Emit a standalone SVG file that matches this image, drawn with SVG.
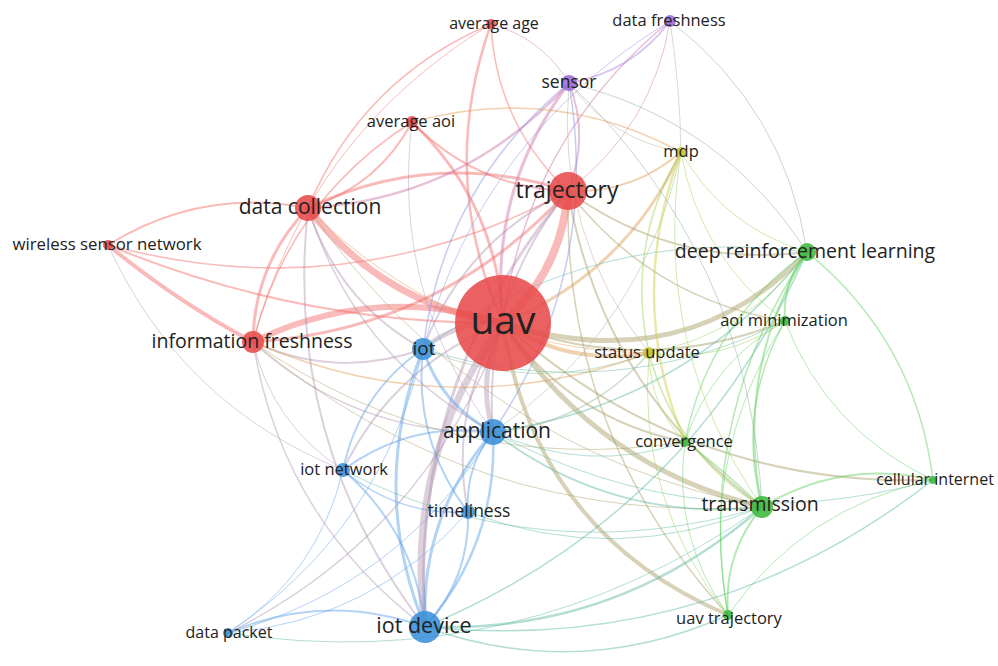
<svg xmlns="http://www.w3.org/2000/svg" width="998" height="666" viewBox="0 0 998 666">
  <style>
    .e{fill:none;stroke-linecap:round;stroke-opacity:.46}
    .r{stroke:#f26b66}.b{stroke:#5aa0e6}.g{stroke:#5ccf5c}.p{stroke:#a87ee6}.y{stroke:#d0d040}
    .rb{stroke:#a88aaa;stroke-opacity:.4}.rg{stroke:#a79d61}.rp{stroke:#cd74a6}.ry{stroke:#e19d53}
    .bg{stroke:#5bb7a1}.bp{stroke:#818fe6}.by{stroke:#95b893}.gy{stroke:#96cf4e}.gp{stroke:#82a6a1}.py{stroke:#bca793}
    .n{fill-opacity:.88}
    .nr{fill:#e84a4a}.nb{fill:#3a8fd8}.ng{fill:#3db83d}.np{fill:#9b6bd6}.ny{fill:#c4c42a}
    text{font-family:"Open Sans","Noto Sans","Liberation Sans",sans-serif;fill:#222;text-anchor:middle}
  </style>

  <!-- co-occurrence links, coloured by the clusters they join -->
  <g id="links">
    <!-- red cluster -->
    <path class="e r" stroke-width="8" d="M503 323 Q562 270 568 191"/>
    <path class="e r" stroke-width="7" d="M308 208 Q383 305 503 323"/>
    <path class="e r" stroke-width="6" d="M503 323 Q374 283 253 342"/>
    <path class="e r" stroke-width="4" d="M108 245 Q176 301 253 342"/>
    <path class="e r" stroke-width="2" d="M308 208 Q201 187 108 245"/>
    <path class="e r" stroke-width="3" d="M503 323 Q498 204 412 122"/>
    <path class="e r" stroke-width="2.5" d="M491 24 Q437 176 503 323"/>
    <path class="e r" stroke-width="3" d="M568 191 Q434 148 308 208"/>
    <path class="e r" stroke-width="3" d="M253 342 Q441 330 568 191"/>
    <path class="e r" stroke-width="3" d="M308 208 Q254 264 253 342"/>
    <path class="e r" stroke-width="2" d="M308 208 Q378 186 412 122"/>
    <path class="e r" stroke-width="1.5" d="M491 24 Q362 79 308 208"/>
    <path class="e r" stroke-width="1.5" d="M412 122 Q289 200 253 342"/>
    <path class="e r" stroke-width="1" d="M491 24 Q308 135 253 342"/>
    <path class="e r" stroke-width="1.5" d="M108 245 Q349 310 568 191"/>
    <path class="e r" stroke-width="2" d="M108 245 Q298 324 503 323"/>
    <path class="e r" stroke-width="2" d="M412 122 Q476 188 568 191"/>
    <path class="e r" stroke-width="1.5" d="M491 24 Q496 123 568 191"/>

    <!-- red to blue -->
    <path class="e rb" stroke-width="7" d="M503 323 Q403 459 425 627"/>
    <path class="e rb" stroke-width="5" d="M503 323 Q458 320 423 349"/>
    <path class="e rb" stroke-width="5" d="M503 323 Q476 376 493 432"/>
    <path class="e rb" stroke-width="2" d="M503 323 Q394 365 343 470"/>
    <path class="e rb" stroke-width="2" d="M503 323 Q448 411 468 512"/>
    <path class="e rb" stroke-width="1.5" d="M228 633 Q428 533 503 323"/>
    <path class="e rb" stroke-width="2" d="M568 191 Q464 241 423 349"/>
    <path class="e rb" stroke-width="2" d="M568 191 Q482 297 493 432"/>
    <path class="e rb" stroke-width="3" d="M568 191 Q409 380 425 627"/>
    <path class="e rb" stroke-width="2" d="M308 208 Q338 302 423 349"/>
    <path class="e rb" stroke-width="2" d="M308 208 Q283 442 425 627"/>
    <path class="e rb" stroke-width="1.5" d="M308 208 Q356 358 493 432"/>
    <path class="e rb" stroke-width="1.5" d="M253 342 Q282 519 425 627"/>
    <path class="e rb" stroke-width="2" d="M253 342 Q337 380 423 349"/>
    <path class="e rb" stroke-width="1" d="M253 342 Q272 424 343 470"/>
    <path class="e rb" stroke-width="1.5" d="M253 342 Q355 435 493 432"/>
    <path class="e rb" stroke-width="1" d="M108 245 Q181 405 343 470"/>
    <path class="e rb" stroke-width="1" d="M412 122 Q391 293 493 432"/>

    <!-- red to purple -->
    <path class="e rp" stroke-width="3" d="M569 83 Q488 190 503 323"/>
    <path class="e rp" stroke-width="2" d="M568 191 Q590 137 569 83"/>
    <path class="e rp" stroke-width="2.5" d="M308 208 Q464 199 569 83"/>
    <path class="e rp" stroke-width="1" d="M569 83 Q542 38 491 24"/>
    <path class="e rp" stroke-width="1" d="M568 191 Q653 126 670 21"/>
    <path class="e rp" stroke-width="1.5" d="M670 21 Q526 139 503 323"/>

    <!-- red to yellow -->
    <path class="e ry" stroke-width="3" d="M503 323 Q626 273 681 152"/>
    <path class="e ry" stroke-width="2" d="M568 191 Q632 194 681 152"/>
    <path class="e ry" stroke-width="4" d="M503 323 Q570 367 649 353"/>
    <path class="e ry" stroke-width="1.5" d="M681 152 Q553 83 412 122"/>
    <path class="e ry" stroke-width="1.5" d="M253 342 Q449 427 649 353"/>
    <path class="e ry" stroke-width="1" d="M308 208 Q450 350 649 353"/>

    <!-- red to green -->
    <path class="e rg" stroke-width="5" d="M503 323 Q596 467 762 507"/>
    <path class="e rg" stroke-width="5" d="M503 323 Q685 380 807 252"/>
    <path class="e rg" stroke-width="4" d="M503 323 Q534 532 728 615"/>
    <path class="e rg" stroke-width="2" d="M503 323 Q644 378 785 321"/>
    <path class="e rg" stroke-width="2" d="M503 323 Q570 419 685 442"/>
    <path class="e rg" stroke-width="2" d="M503 323 Q687 488 933 480"/>
    <path class="e rg" stroke-width="2" d="M568 191 Q675 269 807 252"/>
    <path class="e rg" stroke-width="2" d="M568 191 Q602 388 762 507"/>
    <path class="e rg" stroke-width="1.5" d="M568 191 Q563 435 728 615"/>
    <path class="e rg" stroke-width="1.5" d="M568 191 Q651 299 785 321"/>
    <path class="e rg" stroke-width="1" d="M308 208 Q476 449 762 507"/>
    <path class="e rg" stroke-width="1" d="M253 342 Q475 526 762 507"/>
    <path class="e rg" stroke-width="1" d="M253 342 Q449 478 685 442"/>

    <!-- blue cluster -->
    <path class="e b" stroke-width="3" d="M423 349 Q441 405 493 432"/>
    <path class="e b" stroke-width="3" d="M423 349 Q368 488 425 627"/>
    <path class="e b" stroke-width="2" d="M423 349 Q359 393 343 470"/>
    <path class="e b" stroke-width="2" d="M423 349 Q413 440 468 512"/>
    <path class="e b" stroke-width="3" d="M493 432 Q420 516 425 627"/>
    <path class="e b" stroke-width="2.5" d="M425 627 Q498 543 493 432"/>
    <path class="e b" stroke-width="2" d="M493 432 Q410 421 343 470"/>
    <path class="e b" stroke-width="2" d="M493 432 Q465 467 468 512"/>
    <path class="e b" stroke-width="2" d="M425 627 Q415 532 343 470"/>
    <path class="e b" stroke-width="2" d="M425 627 Q470 578 468 512"/>
    <path class="e b" stroke-width="2" d="M425 627 Q325 591 228 633"/>
    <path class="e b" stroke-width="1" d="M228 633 Q318 575 343 470"/>
    <path class="e b" stroke-width="1" d="M228 633 Q401 586 493 432"/>
    <path class="e b" stroke-width="1" d="M228 633 Q382 530 423 349"/>
    <path class="e b" stroke-width="1" d="M228 633 Q372 621 468 512"/>
    <path class="e b" stroke-width="1.5" d="M343 470 Q397 516 468 512"/>

    <!-- blue to purple -->
    <path class="e bp" stroke-width="1.5" d="M569 83 Q443 187 423 349"/>
    <path class="e bp" stroke-width="1.5" d="M493 432 Q601 273 569 83"/>
    <path class="e bp" stroke-width="1" d="M670 21 Q481 136 423 349"/>

    <!-- blue to green -->
    <path class="e bg" stroke-width="2.5" d="M425 627 Q618 634 762 507"/>
    <path class="e bg" stroke-width="1.5" d="M425 627 Q579 682 728 615"/>
    <path class="e bg" stroke-width="1.5" d="M425 627 Q708 655 933 480"/>
    <path class="e bg" stroke-width="2" d="M493 432 Q613 523 762 507"/>
    <path class="e bg" stroke-width="1.5" d="M493 432 Q686 405 807 252"/>
    <path class="e bg" stroke-width="1" d="M493 432 Q587 475 685 442"/>
    <path class="e bg" stroke-width="1" d="M807 252 Q596 224 423 349"/>
    <path class="e bg" stroke-width="1.5" d="M425 627 Q691 516 807 252"/>
    <path class="e bg" stroke-width="1" d="M468 512 Q616 568 762 507"/>
    <path class="e bg" stroke-width="1" d="M343 470 Q545 572 762 507"/>
    <path class="e bg" stroke-width="1" d="M228 633 Q520 677 762 507"/>
    <path class="e bg" stroke-width="1" d="M423 349 Q610 407 785 321"/>
    <path class="e bg" stroke-width="1" d="M493 432 Q703 544 933 480"/>

    <!-- blue to yellow -->
    <path class="e by" stroke-width="1" d="M423 349 Q535 396 649 353"/>
    <path class="e by" stroke-width="1.5" d="M493 432 Q587 424 649 353"/>
    <path class="e by" stroke-width="1" d="M493 432 Q643 330 681 152"/>

    <!-- green cluster -->
    <path class="e g" stroke-width="2" d="M807 252 Q782 282 785 321"/>
    <path class="e g" stroke-width="2" d="M807 252 Q734 371 762 507"/>
    <path class="e g" stroke-width="1.5" d="M807 252 Q708 323 685 442"/>
    <path class="e g" stroke-width="1.5" d="M807 252 Q695 418 728 615"/>
    <path class="e g" stroke-width="1.5" d="M933 480 Q916 341 807 252"/>
    <path class="e g" stroke-width="1.5" d="M785 321 Q736 409 762 507"/>
    <path class="e g" stroke-width="1" d="M785 321 Q698 457 728 615"/>
    <path class="e g" stroke-width="2" d="M933 480 Q842 459 762 507"/>
    <path class="e g" stroke-width="2" d="M762 507 Q723 554 728 615"/>
    <path class="e g" stroke-width="1.5" d="M762 507 Q711 459 685 442"/>
    <path class="e g" stroke-width="1" d="M685 442 Q672 537 728 615"/>
    <path class="e g" stroke-width="1" d="M933 480 Q804 507 728 615"/>
    <path class="e g" stroke-width="1" d="M785 321 Q711 362 685 442"/>
    <path class="e g" stroke-width="1" d="M785 321 Q827 430 933 480"/>

    <!-- green to yellow -->
    <path class="e gy" stroke-width="1.5" d="M681 152 Q625 246 649 353"/>
    <path class="e gy" stroke-width="1" d="M681 152 Q724 227 807 252"/>
    <path class="e gy" stroke-width="1" d="M681 152 Q651 346 762 507"/>
    <path class="e y" stroke-width="2.5" d="M681 152 Q625 298 685 442"/>
    <path class="e gy" stroke-width="1.5" d="M649 353 Q675 453 762 507"/>
    <path class="e gy" stroke-width="1" d="M649 353 Q748 334 807 252"/>
    <path class="e gy" stroke-width="1" d="M649 353 Q649 405 685 442"/>
    <path class="e gy" stroke-width="1" d="M649 353 Q723 364 785 321"/>
    <path class="e gy" stroke-width="1" d="M681 152 Q699 257 785 321"/>
    <path class="e gy" stroke-width="1" d="M649 353 Q636 500 728 615"/>

    <!-- purple cluster and its outside links -->
    <path class="e p" stroke-width="2" d="M569 83 Q632 72 670 21"/>
    <path class="e gp" stroke-width="1" d="M807 252 Q722 120 569 83"/>
    <path class="e gp" stroke-width="1" d="M807 252 Q785 109 670 21"/>
    <path class="e gp" stroke-width="1" d="M762 507 Q750 256 569 83"/>
    <path class="e py" stroke-width="1" d="M670 21 Q680 86 681 152"/>
    <path class="e py" stroke-width="1" d="M569 83 Q555 234 649 353"/>
    <path class="e py" stroke-width="1" d="M569 83 Q611 140 681 152"/>
  </g>

  <!-- keywords -->
  <g id="node-uav"><circle class="n nr" cx="503" cy="323" r="48"/><text x="503" y="334" font-size="39">uav</text></g>
  <g id="node-trajectory"><circle class="n nr" cx="568" cy="191" r="19"/><text x="567" y="197.5" font-size="23">trajectory</text></g>
  <g id="node-data-collection"><circle class="n nr" cx="308" cy="208" r="13"/><text x="310" y="214" font-size="21">data collection</text></g>
  <g id="node-information-freshness"><circle class="n nr" cx="253" cy="342" r="11"/><text x="252" y="347.5" font-size="19.5">information freshness</text></g>
  <g id="node-wireless-sensor-network"><circle class="n nr" cx="108" cy="245" r="5"/><text x="107" y="249.5" font-size="16.8">wireless sensor network</text></g>
  <g id="node-average-aoi"><circle class="n nr" cx="412" cy="122" r="6"/><text x="411" y="126.5" font-size="16.5">average aoi</text></g>
  <g id="node-average-age"><circle class="n nr" cx="491" cy="24" r="5"/><text x="494" y="28.5" font-size="16">average age</text></g>
  <g id="node-sensor"><circle class="n np" cx="569" cy="83" r="8"/><text x="569" y="88" font-size="17.5">sensor</text></g>
  <g id="node-data-freshness"><circle class="n np" cx="670" cy="21" r="6"/><text x="669" y="25.5" font-size="16.5">data freshness</text></g>
  <g id="node-mdp"><circle class="n ny" cx="681" cy="152" r="5"/><text x="681" y="156.5" font-size="16.5">mdp</text></g>
  <g id="node-status-update"><circle class="n ny" cx="649" cy="353" r="6"/><text x="647" y="358" font-size="16.5">status update</text></g>
  <g id="node-deep-reinforcement-learning"><circle class="n ng" cx="807" cy="252" r="9"/><text x="805" y="257.5" font-size="19.5">deep reinforcement learning</text></g>
  <g id="node-aoi-minimization"><circle class="n ng" cx="785" cy="321" r="5"/><text x="784" y="325.5" font-size="16.5">aoi minimization</text></g>
  <g id="node-convergence"><circle class="n ng" cx="685" cy="442" r="5"/><text x="684" y="446.5" font-size="16.5">convergence</text></g>
  <g id="node-cellular-internet"><circle class="n ng" cx="933" cy="480" r="4"/><text x="935" y="484.5" font-size="16">cellular internet</text></g>
  <g id="node-transmission"><circle class="n ng" cx="762" cy="507" r="11"/><text x="760" y="510.5" font-size="19.5">transmission</text></g>
  <g id="node-uav-trajectory"><circle class="n ng" cx="728" cy="615" r="5"/><text x="729" y="623.5" font-size="16.5">uav trajectory</text></g>
  <g id="node-iot"><circle class="n nb" cx="423" cy="349" r="11"/><text x="424" y="355" font-size="19">iot</text></g>
  <g id="node-application"><circle class="n nb" cx="493" cy="432" r="13"/><text x="497" y="438" font-size="21">application</text></g>
  <g id="node-iot-network"><circle class="n nb" cx="343" cy="470" r="7"/><text x="344" y="474.5" font-size="16.5">iot network</text></g>
  <g id="node-timeliness"><circle class="n nb" cx="468" cy="512" r="7"/><text x="469" y="516.5" font-size="17.5">timeliness</text></g>
  <g id="node-iot-device"><circle class="n nb" cx="425" cy="627" r="16"/><text x="424" y="632.5" font-size="21.5">iot device</text></g>
  <g id="node-data-packet"><circle class="n nb" cx="228" cy="633" r="5"/><text x="229" y="638" font-size="16">data packet</text></g>
</svg>
